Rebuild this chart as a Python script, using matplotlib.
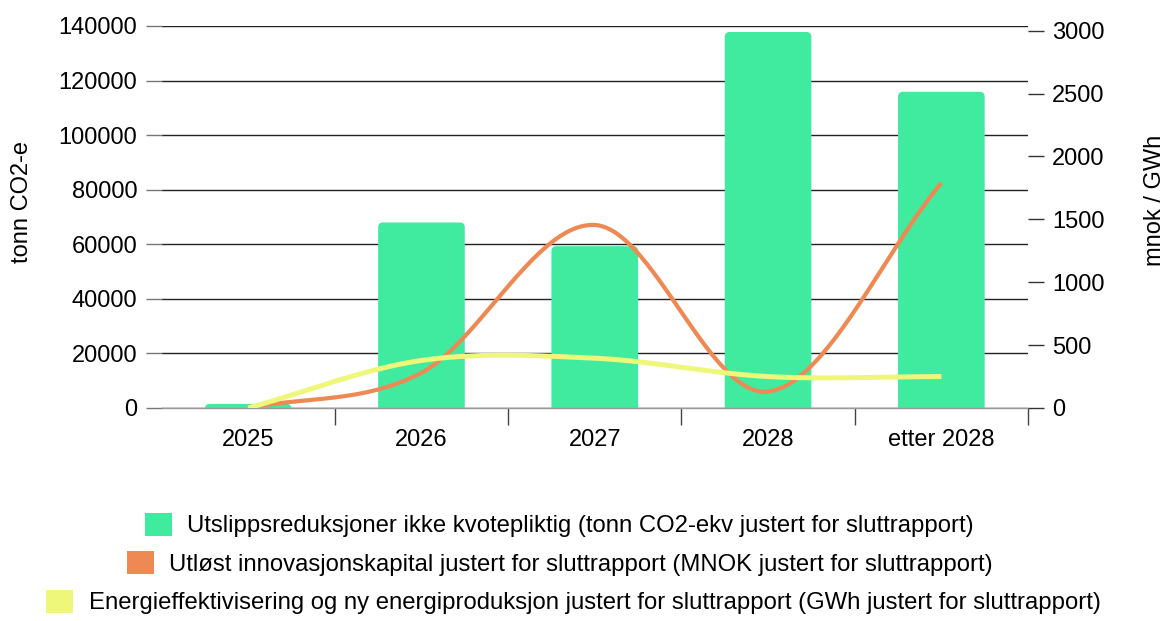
import numpy as np
import matplotlib
matplotlib.use('Agg')
import matplotlib.pyplot as plt
from matplotlib.patches import FancyBboxPatch, Patch

plt.rcParams['font.family'] = ['Liberation Sans', 'DejaVu Sans']

# ---- data ----
categories = ['2025', '2026', '2027', '2028', 'etter 2028']
utslipp = [1500, 68000, 59300, 137800, 115900]      # tonn CO2-ekv (left axis)
innovasjon = [0, 280, 1455, 130, 1790]               # MNOK (right axis)
energi = [0, 378, 396, 250, 250]                     # GWh (right axis)

labels = [
    'Utslippsreduksjoner ikke kvotepliktig (tonn CO2-ekv justert for sluttrapport)',
    'Utløst innovasjonskapital justert for sluttrapport (MNOK justert for sluttrapport)',
    'Energieffektivisering og ny energiproduksjon justert for sluttrapport (GWh justert for sluttrapport)',
]

GREEN = '#40eba0'
ORANGE = '#ee8953'
YELLOW = '#eff77a'


def catmull_rom(xk, yk, n=50):
    """Smooth curve through the given points (cubic Hermite, Catmull-Rom tangents)."""
    xk = np.asarray(xk, float)
    yk = np.asarray(yk, float)
    m = len(xk)
    tang = np.empty(m)
    tang[0] = (yk[1] - yk[0]) / (xk[1] - xk[0])
    tang[-1] = (yk[-1] - yk[-2]) / (xk[-1] - xk[-2])
    for i in range(1, m - 1):
        tang[i] = (yk[i + 1] - yk[i - 1]) / (xk[i + 1] - xk[i - 1])
    xs_all, ys_all = [], []
    for i in range(m - 1):
        h = xk[i + 1] - xk[i]
        t = np.linspace(0, 1, n, endpoint=(i == m - 2))
        h00 = 2 * t ** 3 - 3 * t ** 2 + 1
        h10 = t ** 3 - 2 * t ** 2 + t
        h01 = -2 * t ** 3 + 3 * t ** 2
        h11 = t ** 3 - t ** 2
        xs_all.append(xk[i] + t * h)
        ys_all.append(h00 * yk[i] + h10 * h * tang[i] + h01 * yk[i + 1] + h11 * h * tang[i + 1])
    return np.concatenate(xs_all), np.concatenate(ys_all)


W, H = 1166, 621
fig = plt.figure(figsize=(W / 100, H / 100), dpi=100)
L, R, T, B = 161.5, 1028, 26, 408
ax = fig.add_axes([L / W, 1 - B / H, (R - L) / W, (B - T) / H])
ax2 = ax.twinx()

x = np.arange(len(categories))
ax.set_xlim(-0.5, len(categories) - 0.5)
ax.set_ylim(0, 140000)
ax2.set_ylim(0, 3037)

# bars with rounded tops
bars = ax.bar(x, utslipp, width=0.5, color=GREEN, zorder=2)
xspan = len(categories) / (R - L)
yspan = 140000 / (B - T)
aspect = yspan / xspan
r = 5 * xspan
for bb in bars:
    bb.set_visible(False)
    ext = 2 * r * aspect
    p = FancyBboxPatch((bb.get_x(), -ext), bb.get_width(), bb.get_height() + ext,
                       boxstyle=f"round,pad=0,rounding_size={r}",
                       mutation_aspect=aspect, fc=GREEN, ec='none', zorder=2)
    ax.add_patch(p)

xs, ys = catmull_rom(x, innovasjon)
ax2.plot(xs, ys, color=ORANGE, lw=3.0, solid_capstyle='butt', zorder=3)
xs, ys = catmull_rom(x, energi)
ax2.plot(xs, ys, color=YELLOW, lw=3.6, solid_capstyle='butt', zorder=4)

# grid & spines
ax.set_axisbelow(True)
ax.yaxis.grid(True, color='#222222', lw=1.0)
for s in ['top', 'left', 'right']:
    ax.spines[s].set_visible(False)
    ax2.spines[s].set_visible(False)
ax2.spines['bottom'].set_visible(False)
ax.spines['bottom'].set_color('#999999')
ax.spines['bottom'].set_linewidth(1.0)

FS = 17
ax.set_yticks(np.arange(0, 140001, 20000))
ax.set_yticklabels([str(v) for v in range(0, 140001, 20000)])
ax.tick_params(axis='y', length=11.5, width=1, color='#777777', pad=6, labelsize=FS)
ax2.set_yticks(np.arange(0, 3001, 500))
ax2.set_yticklabels([str(v) for v in range(0, 3001, 500)])
ax2.tick_params(axis='y', length=11.5, width=1, color='#333333', pad=6, labelsize=FS)

ax.set_xticks(np.arange(0.5, len(categories), 1.0))
ax.set_xticklabels([])
ax.set_xticks(x, minor=True)
ax.set_xticklabels(categories, minor=True)
ax.tick_params(axis='x', which='major', length=12, width=1, color='#444444')
ax.tick_params(axis='x', which='minor', length=0, pad=15, labelsize=FS)

fig.text(22 / W, 1 - 202 / H, 'tonn CO2-e', rotation=90, ha='center', va='center', fontsize=FS)
fig.text(1155 / W, 1 - 200 / H, 'mnok / GWh', rotation=90, ha='center', va='center', fontsize=FS)

# legend rows, each centered separately
LFS = 17.2
rows = [(GREEN, labels[0], 559, 525), (ORANGE, labels[1], 559.5, 563.5), (YELLOW, labels[2], 573.5, 602)]
for col, lab, cx, cy in rows:
    fig.legend(handles=[Patch(facecolor=col, edgecolor='none', label=lab)],
               loc='center', bbox_to_anchor=(cx / W, 1 - cy / H), frameon=False,
               fontsize=LFS, handlelength=1.13, handleheight=1.12, handletextpad=0.64,
               borderpad=0, borderaxespad=0)

fig.savefig('out.png', dpi=100)
